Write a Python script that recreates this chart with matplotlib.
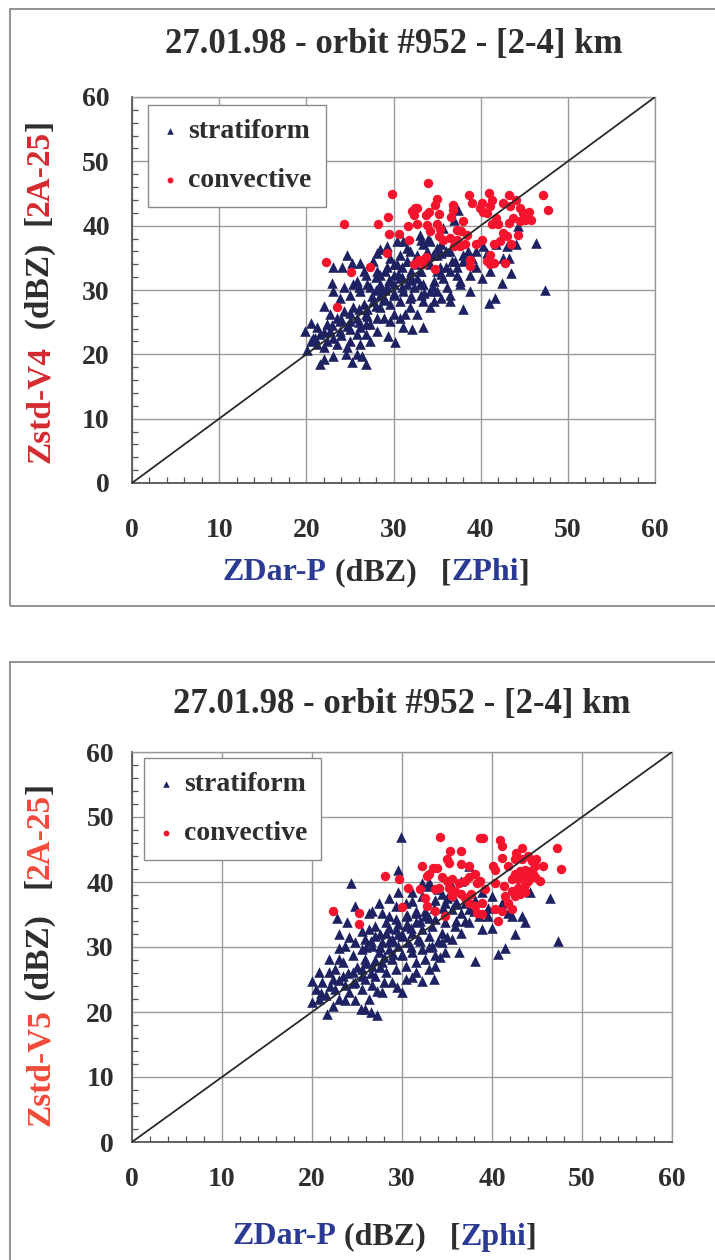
import matplotlib.pyplot as plt
from matplotlib.patches import Rectangle
from matplotlib.ticker import MultipleLocator

plt.rcParams['font.family'] = ['Liberation Serif', 'DejaVu Serif']
plt.rcParams['font.weight'] = 'bold'

title = '27.01.98 - orbit #952 - [2-4] km'
ticks = [0, 10, 20, 30, 40, 50, 60]

# Zstd-V4 vs ZDar-P (top panel)
v4_stratiform = [
    (37.4, 42.5), (36.9, 40.9), (35.7, 39.6), (46.4, 37.3), (47.4, 30.0), (44.3, 39.9), (44.1, 37.1),
    (43.2, 35.0), (43.5, 32.7), (42.4, 31.1), (41.6, 28.8), (40.9, 28.0), (38.0, 27.0), (38.8, 32.4),
    (40.1, 31.9), (41.1, 32.9), (37.3, 32.4), (36.5, 28.3), (35.0, 29.8), (33.4, 24.2), (32.1, 23.9),
    (31.1, 24.2), (30.2, 21.9), (29.4, 22.9), (28.1, 23.7), (26.9, 23.1), (26.9, 18.5), (26.4, 19.8),
    (25.2, 18.8), (24.5, 20.1), (23.1, 19.8), (22.0, 19.3), (21.6, 18.5), (20.1, 20.6), (19.9, 23.7),
    (20.5, 24.9), (21.2, 24.2), (22.0, 27.5), (22.9, 31.1), (23.1, 33.5), (24.1, 33.5), (24.7, 35.5),
    (25.2, 34.2), (26.2, 34.2), (28.1, 35.8), (28.5, 36.3), (29.2, 36.8), (30.4, 37.6), (31.1, 37.6),
    (31.5, 36.5), (33.1, 37.8), (33.4, 37.1), (34.2, 37.6), (35.5, 37.1), (35.5, 35.8), (36.5, 36.0),
    (36.7, 34.5), (37.3, 33.5), (38.0, 35.5), (39.5, 36.0), (40.3, 36.8), (40.7, 35.8), (41.8, 37.1),
    (43.0, 36.8), (42.6, 35.0), (39.5, 33.5), (38.0, 34.5), (33.4, 28.3), (34.2, 27.3), (31.9, 27.3),
    (30.8, 25.7), (29.6, 25.2), (28.1, 25.7), (26.9, 26.2), (25.8, 25.7), (24.7, 24.4), (23.9, 23.7),
    (23.1, 22.6), (22.4, 22.1), (21.2, 21.6), (20.5, 22.1), (22.4, 24.7), (23.5, 25.7), (24.3, 26.8),
    (25.4, 27.3), (26.6, 27.8), (27.7, 28.3), (28.9, 28.8), (30.0, 29.3), (31.1, 29.8), (32.3, 30.4),
    (33.4, 30.9), (34.6, 31.4), (35.7, 31.9), (35.3, 33.5), (34.2, 34.0), (33.1, 32.9), (31.9, 32.4),
    (30.8, 31.9), (29.6, 31.4), (28.5, 30.9), (27.3, 30.4), (26.2, 29.8), (25.0, 29.3), (23.9, 28.8),
    (25.8, 31.4), (26.9, 32.4), (28.1, 32.9), (29.2, 33.5), (30.4, 34.0), (31.5, 34.5), (32.7, 35.5),
    (33.8, 36.0), (35.0, 35.5), (29.6, 35.0), (30.8, 35.5), (31.9, 36.0), (27.7, 34.5), (26.6, 32.9),
    (25.4, 30.9), (24.3, 30.4), (23.1, 29.8), (22.7, 26.2), (21.6, 23.1), (20.8, 22.6), (25.8, 23.1),
    (25.0, 22.1), (26.2, 21.6), (27.3, 22.1), (28.5, 27.3), (29.6, 27.8), (30.8, 28.3), (31.9, 28.8),
    (33.1, 29.3), (34.2, 29.8), (36.1, 30.4), (36.5, 32.9), (37.6, 31.4), (38.8, 29.8), (27.3, 24.7),
    (26.2, 24.2), (25.0, 25.2), (23.9, 25.2), (22.7, 23.7), (22.0, 21.1), (23.5, 21.6), (24.7, 21.1),
    (25.8, 20.1), (35.5, 28.8), (36.5, 29.3), (37.6, 30.9), (32.7, 26.2), (31.3, 26.2), (30.0, 26.2),
    (28.9, 25.7), (26.9, 24.7), (28.5, 29.3), (30.0, 32.4), (31.5, 30.9), (35.0, 32.9), (32.7, 31.9),
    (28.5, 32.4), (34.6, 28.3), (29.2, 30.4), (28.0, 30.0), (29.0, 30.0), (30.0, 31.0), (31.0, 32.0),
    (32.0, 33.0), (33.0, 33.0), (31.0, 33.5), (30.0, 34.0), (29.0, 33.0), (28.0, 32.0), (27.0, 31.0),
    (26.0, 30.5), (27.5, 29.0), (28.5, 30.5), (29.5, 31.5), (30.5, 32.5), (31.5, 34.5), (32.5, 34.0),
    (33.5, 35.0), (34.5, 35.5), (34.0, 34.5), (33.0, 31.0), (32.0, 31.5), (31.0, 30.5), (30.0, 29.5),
    (29.0, 28.5), (28.0, 27.5), (27.0, 27.0), (26.0, 27.0), (25.0, 26.5), (24.0, 25.5), (23.0, 24.5),
    (22.0, 23.5), (21.0, 22.5), (24.0, 23.0), (25.0, 24.0), (26.0, 25.0), (27.0, 26.0), (32.0, 29.0),
    (33.5, 29.5), (34.5, 30.5), (35.5, 32.5), (36.0, 33.5), (37.0, 34.5), (38.5, 36.0), (39.0, 35.0),
    (36.0, 36.0), (34.0, 38.0), (33.0, 38.5), (35.0, 36.5),
]
v4_convective = [
    (34.0, 46.6), (29.8, 44.9), (24.3, 40.2), (28.2, 40.2), (29.4, 41.3), (29.5, 38.7), (30.6, 38.7),
    (31.8, 37.7), (29.3, 35.7), (22.2, 34.3), (25.1, 32.8), (27.3, 33.5), (23.5, 27.4), (32.5, 42.7),
    (32.1, 42.3), (32.7, 42.8), (32.4, 41.7), (33.7, 41.7), (34.1, 42.1), (35.0, 44.2), (34.8, 43.2),
    (35.2, 41.8), (36.8, 43.2), (36.8, 42.5), (36.6, 41.4), (32.7, 40.3), (31.7, 39.9), (33.8, 40.1),
    (34.2, 39.1), (35.0, 40.2), (35.3, 39.5), (35.2, 38.4), (35.7, 37.8), (36.5, 38.1), (37.3, 39.4),
    (38.0, 40.7), (37.8, 39.1), (38.4, 38.6), (37.3, 37.8), (37.6, 36.8), (38.2, 37.1), (36.9, 36.8),
    (34.8, 33.2), (32.3, 34.0), (32.9, 34.7), (33.7, 35.1), (33.4, 34.0), (38.7, 44.8), (39.0, 43.5),
    (40.1, 43.5), (39.9, 42.7), (40.3, 42.2), (41.0, 45.1), (41.3, 44.0), (41.1, 43.0), (40.7, 42.0),
    (41.8, 41.2), (42.0, 40.2), (41.3, 40.2), (42.6, 43.5), (43.2, 44.8), (43.4, 43.0), (44.1, 44.0),
    (44.5, 42.7), (44.9, 42.0), (45.5, 42.2), (45.1, 40.9), (44.5, 40.7), (43.7, 41.2), (43.2, 40.4),
    (42.6, 38.9), (43.0, 38.4), (43.5, 37.1), (44.3, 38.6), (42.2, 37.6), (41.5, 37.1), (40.1, 37.8),
    (39.5, 37.1), (41.1, 35.5), (40.7, 34.5), (41.1, 34.0), (41.5, 34.2), (38.8, 34.7), (38.8, 33.7),
    (42.8, 34.2), (47.2, 44.7), (47.7, 42.5), (45.8, 40.9),
]

# Zstd-V5 vs ZDar-P (bottom panel)
v5_stratiform = [
    (29.9, 46.9), (24.3, 39.9), (29.6, 41.8), (37.4, 42.4), (36.5, 40.2), (35.5, 39.4), (34.4, 38.1),
    (32.2, 37.9), (31.1, 37.1), (28.5, 37.6), (27.4, 36.8), (26.7, 35.6), (24.8, 36.3), (22.8, 34.5),
    (23.9, 33.8), (26.3, 35.3), (27.8, 35.3), (28.5, 34.8), (46.4, 37.6), (47.3, 31.0), (44.2, 38.4),
    (43.3, 34.8), (43.7, 33.8), (42.2, 34.8), (42.5, 32.0), (41.4, 29.9), (40.7, 28.9), (38.1, 27.9),
    (40.0, 33.0), (38.9, 32.8), (37.4, 33.8), (36.6, 32.2), (36.3, 29.2), (34.2, 28.4), (33.5, 25.1),
    (32.2, 24.8), (31.1, 25.4), (30.0, 23.1), (29.4, 23.8), (28.0, 24.6), (27.2, 23.3), (27.2, 19.5),
    (26.5, 20.0), (25.4, 20.5), (24.8, 21.8), (23.7, 21.8), (22.3, 21.0), (21.7, 19.7), (20.0, 21.5),
    (20.0, 24.8), (20.8, 26.1), (21.9, 28.2), (23.0, 29.9), (23.0, 32.0), (24.1, 31.5), (25.6, 32.5),
    (26.3, 32.8), (27.0, 33.3), (28.2, 33.8), (29.3, 34.3), (30.4, 34.8), (31.5, 35.3), (32.6, 34.8),
    (33.7, 34.3), (34.8, 33.8), (35.9, 33.3), (35.5, 31.2), (34.4, 30.7), (33.3, 30.2), (32.2, 29.7),
    (31.1, 29.2), (30.0, 28.7), (28.9, 28.2), (27.8, 27.7), (26.7, 27.1), (25.6, 26.6), (24.5, 26.1),
    (23.4, 25.6), (22.3, 25.1), (21.1, 24.6), (20.4, 23.6), (21.5, 22.6), (22.6, 23.6), (23.7, 24.1),
    (24.8, 24.6), (25.9, 25.1), (27.0, 25.6), (28.2, 26.1), (29.3, 26.6), (30.4, 27.1), (31.5, 27.7),
    (32.6, 28.2), (33.7, 28.7), (34.8, 29.2), (25.6, 29.7), (26.7, 30.2), (27.8, 30.7), (28.9, 31.2),
    (30.0, 31.7), (31.1, 32.2), (32.2, 32.8), (33.3, 33.3), (34.4, 32.2), (24.5, 28.7), (23.4, 27.7),
    (22.6, 26.6), (25.9, 28.2), (27.4, 29.2), (28.5, 29.7), (29.6, 30.2), (30.7, 30.7), (31.8, 31.2),
    (33.0, 31.7), (29.3, 32.8), (30.4, 33.3), (31.5, 33.8), (28.2, 32.2), (27.0, 31.7), (25.9, 31.2),
    (24.8, 30.7), (23.7, 30.2), (23.0, 28.2), (21.9, 26.1), (20.8, 22.0), (23.0, 22.0), (24.1, 23.1),
    (25.6, 23.6), (26.3, 22.0), (25.9, 20.5), (26.7, 24.1), (27.8, 23.1), (28.9, 24.6), (30.4, 25.1),
    (31.5, 26.1), (33.0, 26.6), (33.7, 27.1), (37.4, 35.8), (37.0, 36.8), (38.1, 37.3), (38.9, 38.4),
    (40.0, 37.9), (41.1, 36.8), (41.8, 35.3), (38.5, 34.8), (39.6, 34.8), (36.6, 35.3), (35.5, 35.8),
    (34.8, 36.8), (33.7, 37.3), (33.0, 39.4), (32.2, 39.9), (31.1, 38.4), (30.4, 36.8), (29.3, 36.3),
    (29.6, 38.4), (35.2, 37.9), (36.1, 36.6), (29.0, 31.0), (30.0, 32.0), (31.0, 33.0), (32.0, 34.0),
    (33.0, 34.5), (31.5, 35.5), (30.5, 35.0), (29.5, 33.5), (28.5, 33.0), (27.5, 32.0), (26.5, 31.0),
    (26.0, 30.0), (27.5, 30.0), (28.5, 31.0), (29.5, 32.0), (30.5, 33.5), (32.5, 35.5), (33.5, 36.0),
    (34.5, 36.0), (32.0, 31.0), (31.0, 30.0), (30.0, 29.0), (29.0, 29.0), (28.0, 28.5), (27.0, 28.0),
    (26.0, 27.5), (25.0, 27.0), (24.0, 26.0), (23.0, 25.0), (22.0, 24.0), (21.0, 23.0), (24.5, 24.5),
    (25.5, 25.5), (26.5, 26.0), (27.5, 27.0), (33.0, 30.0), (34.0, 31.0), (35.0, 31.5), (36.0, 34.0),
    (37.0, 34.0), (38.0, 35.5), (39.5, 36.0), (36.0, 37.0), (34.0, 39.0), (33.0, 40.0), (35.0, 37.5),
]
v5_convective = [
    (34.2, 47.0), (38.7, 46.8), (39.0, 46.8), (40.9, 46.5), (41.1, 45.6), (35.3, 44.7), (36.6, 44.7),
    (35.0, 43.5), (35.2, 43.0), (32.2, 42.4), (33.4, 42.2), (33.9, 42.2), (36.6, 42.7), (37.4, 42.4),
    (28.1, 41.0), (29.7, 40.5), (32.8, 40.9), (33.0, 41.2), (34.4, 40.7), (35.0, 40.2), (35.5, 40.4),
    (36.3, 39.9), (37.0, 40.2), (37.4, 40.7), (38.1, 41.2), (38.3, 39.9), (38.7, 40.2), (30.7, 39.1),
    (32.0, 38.9), (33.7, 38.9), (34.1, 39.1), (35.2, 39.1), (35.9, 38.6), (35.5, 37.9), (36.6, 38.1),
    (37.0, 37.6), (37.7, 38.1), (37.4, 36.8), (38.1, 36.3), (38.9, 36.8), (38.3, 35.3), (38.9, 35.1),
    (32.6, 37.6), (32.8, 36.3), (33.7, 35.6), (34.8, 34.8), (30.0, 36.1), (22.3, 35.6), (25.2, 35.3),
    (25.2, 33.5), (40.7, 34.0), (40.3, 35.8), (41.1, 35.6), (42.2, 35.8), (41.4, 37.9), (42.5, 37.9),
    (43.1, 38.1), (43.7, 38.4), (40.1, 42.4), (40.3, 41.9), (41.1, 43.7), (41.8, 42.4), (42.5, 43.5),
    (42.7, 44.5), (43.3, 45.3), (43.3, 43.5), (44.0, 44.0), (44.4, 43.2), (44.8, 42.4), (44.2, 41.7),
    (43.7, 41.9), (43.1, 41.7), (42.5, 41.2), (42.2, 40.4), (42.9, 40.4), (43.7, 40.7), (44.0, 40.2),
    (45.3, 40.2), (45.7, 42.4), (44.9, 43.5), (44.6, 41.2), (44.8, 40.7), (43.7, 39.6), (42.9, 39.1),
    (42.2, 38.6), (41.3, 39.4), (40.3, 39.9), (47.2, 45.2), (47.7, 42.0), (41.8, 36.8), (39.2, 38.9),
]

NAVY = '#1e2263'
RED = '#f5142d'
DARK = '#2e2e2e'
BLUE = '#2b3a94'
W, H = 715, 1260

fig = plt.figure(figsize=(W / 100, H / 100), dpi=100)
renderer = fig.canvas.get_renderer()


def colored_text(x_px, y_px, parts, size, vertical=False):
    # place pieces one after another, measured in pixels
    pos = x_px if not vertical else y_px
    for s, c in parts:
        if vertical:
            t = fig.text(x_px / W, 1 - pos / H, s, color=c, fontsize=size, rotation=90,
                         ha='center', va='bottom')
            pos -= t.get_window_extent(renderer).height
        else:
            t = fig.text(pos / W, 1 - y_px / H, s, color=c, fontsize=size, ha='left', va='center')
            pos += t.get_window_extent(renderer).width


def panel(box, strat, conv, frame, title_y, xpad, ypad, leg_anchor):
    l, t, r, b = box
    ax = fig.add_axes([l / W, 1 - b / H, (r - l) / W, (b - t) / H])
    fig.add_artist(Rectangle((frame[0] / W, 1 - frame[3] / H), (frame[2] - frame[0]) / W,
                             (frame[3] - frame[1]) / H, transform=fig.transFigure,
                             fill=False, ec='#8a8a8a', lw=1.3))
    sx, sy = zip(*strat)
    cx, cy = zip(*conv)
    ax.scatter(sx, sy, marker='^', s=58, color=NAVY, lw=0, label='stratiform', zorder=3)
    ax.scatter(cx, cy, marker='o', s=46, color=RED, lw=0, label='convective', zorder=4)
    ax.plot([0, 60], [0, 60], color='#2a2a2a', lw=1.3, zorder=5)
    ax.set_xlim(0, 60)
    ax.set_ylim(0, 60)
    ax.set_xticks(ticks)
    ax.set_yticks(ticks)
    ax.xaxis.set_minor_locator(MultipleLocator(2))
    ax.yaxis.set_minor_locator(MultipleLocator(2))
    ax.grid(True, which='major', color='#9a9a9a', lw=1.0, zorder=1)
    ax.tick_params(which='major', length=0, labelsize=20, labelcolor=DARK)
    ax.tick_params(axis='x', which='major', pad=xpad)
    ax.tick_params(axis='y', which='major', pad=ypad)
    ax.tick_params(which='minor', direction='in', length=4, width=0.9, color='#555555')
    for side in ['left', 'bottom']:
        ax.spines[side].set_color('#555555')
        ax.spines[side].set_linewidth(1.3)
    for side in ['top', 'right']:
        ax.spines[side].set_color('#9a9a9a')
        ax.spines[side].set_linewidth(1.0)
    leg = ax.legend(loc='upper left', bbox_to_anchor=leg_anchor, borderaxespad=0, fancybox=False,
                    framealpha=1, edgecolor='#8a8a8a', handlelength=0.6, handletextpad=0.35,
                    borderpad=0.5, labelspacing=0.85, markerscale=0.62,
                    prop={'size': 20, 'weight': 'bold'})
    leg.get_frame().set_linewidth(1.0)
    for txt in leg.get_texts():
        txt.set_color(DARK)
    fig.text((l + r) / 2 / W, 1 - title_y / H, title, ha='center', va='center',
             fontsize=25, color=DARK)
    return ax


panel((132, 97, 655, 483), v4_stratiform, v4_convective, (10, 9, 740, 606), 45, 25, 16,
      (0.031, 0.979))
colored_text(223, 573, [('ZDar-P', BLUE), (' (dBZ)   [', DARK), ('ZPhi', BLUE), (']', DARK)], 23)
colored_text(40, 463, [('Zstd-V4', '#d42a30'), ('  (dBZ)  [', DARK), ('2A-25', '#d42a30'), (']', DARK)],
             24, vertical=True)

panel((132, 752, 672, 1142), v5_stratiform, v5_convective, (10, 662, 740, 1290), 705, 18, 13,
      (0.022, 0.985))
colored_text(232, 1237, [('ZDar-P', BLUE), (' (dBZ)   [', DARK), ('Zphi', BLUE), (']', DARK)], 23)
colored_text(40, 1126, [('Zstd-V5', '#f24a3a'), (' (dBZ)   [', DARK), ('2A-25', '#f24a3a'), (']', DARK)],
             24, vertical=True)

fig.savefig('out.png', dpi=100)
